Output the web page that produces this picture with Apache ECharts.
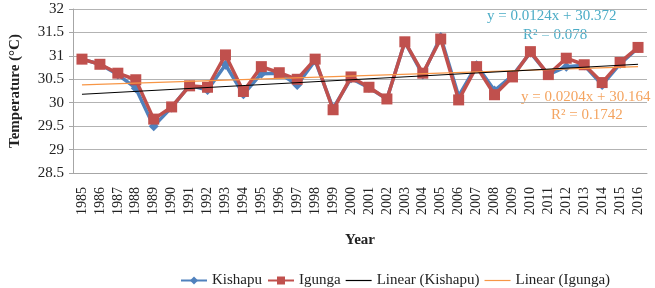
<!DOCTYPE html>
<html>
<head>
<meta charset="utf-8">
<title>Temperature Kishapu Igunga</title>
<script src="https://cdn.jsdelivr.net/npm/echarts@6/dist/echarts.min.js"></script>
<style>
  html, body { margin: 0; padding: 0; background: #fff; }
  #chart { width: 655px; height: 288px; }
</style>
</head>
<body>
<div id="chart"></div>
<script type="text/javascript">
var years = ['1985','1986','1987','1988','1989','1990','1991','1992','1993','1994','1995','1996','1997','1998','1999','2000',
             '2001','2002','2003','2004','2005','2006','2007','2008','2009','2010','2011','2012','2013','2014','2015','2016'];

var kishapu = [30.93, 30.82, 30.60, 30.31, 29.50, 29.90, 30.37, 30.27, 30.81, 30.18, 30.62, 30.63, 30.38, 30.90, 29.88, 30.52,
               30.32, 30.08, 31.30, 30.60, 31.40, 30.14, 30.80, 30.26, 30.58, 31.07, 30.60, 30.77, 30.80, 30.38, 30.83, 31.17];

var igunga = [30.93, 30.82, 30.63, 30.49, 29.65, 29.91, 30.36, 30.33, 31.02, 30.24, 30.77, 30.64, 30.50, 30.93, 29.85, 30.55,
              30.33, 30.08, 31.30, 30.63, 31.36, 30.06, 30.77, 30.17, 30.55, 31.09, 30.60, 30.95, 30.81, 30.43, 30.86, 31.18];

// trend line end points (first and last year)
var kishapuTrendEnds = [30.18, 30.82];
var igungaTrendEnds = [30.38, 30.77];

var eqBlue = ['y = 0.0124x + 30.372', 'R² = 0.078'];
var eqOrange = ['y = 0.0204x + 30.164', 'R² = 0.1742'];

function endsOnly(ends) {
  var out = [];
  for (var i = 0; i < years.length; i++) out.push(null);
  out[0] = ends[0];
  out[years.length - 1] = ends[1];
  return out;
}

var serif = '"Liberation Serif", "DejaVu Serif", serif';
var thinLine = 'path://M0,0 L26,0 L26,1.2 L0,1.2 Z';
var chart = echarts.init(document.getElementById('chart'));

chart.setOption({
  backgroundColor: '#fff',
  animation: false,
  textStyle: { fontFamily: serif },
  grid: { left: 67, right: 8, top: 9, bottom: 115 },
  legend: {
    left: 175,
    top: 268,
    itemWidth: 26,
    itemHeight: 10,
    itemGap: 5,
    textStyle: { fontFamily: serif, fontSize: 15, color: '#222' },
    data: [
      'Kishapu',
      'Igunga',
      { name: 'Linear (Kishapu)', icon: thinLine },
      { name: 'Linear (Igunga)', icon: thinLine }
    ]
  },
  xAxis: {
    type: 'category',
    data: years,
    boundaryGap: true,
    name: 'Year',
    nameLocation: 'middle',
    nameGap: 60,
    nameTextStyle: { fontFamily: serif, fontSize: 15, fontWeight: 'bold', color: '#222' },
    axisLine: { lineStyle: { color: '#a6a6a6' } },
    axisTick: { show: false },
    axisLabel: { rotate: 90, interval: 0, margin: 14, fontFamily: serif, fontSize: 14, color: '#222' }
  },
  yAxis: {
    type: 'value',
    min: 28.5,
    max: 32,
    interval: 0.5,
    name: 'Temperature (°C)',
    nameLocation: 'middle',
    nameGap: 50,
    nameTextStyle: { fontFamily: serif, fontSize: 15, fontWeight: 'bold', color: '#222' },
    axisLine: { show: true, lineStyle: { color: '#a6a6a6' } },
    axisTick: { show: true, length: 4, lineStyle: { color: '#a6a6a6' } },
    axisLabel: { margin: 9, fontFamily: serif, fontSize: 15, color: '#222' },
    splitLine: { lineStyle: { color: '#b3b3b3', width: 1 } }
  },
  series: [
    {
      name: 'Kishapu',
      type: 'line',
      data: kishapu,
      symbol: 'diamond',
      symbolSize: 10,
      lineStyle: { color: '#4f81bd', width: 3.5 },
      itemStyle: { color: '#4f81bd' },
      z: 2
    },
    {
      name: 'Igunga',
      type: 'line',
      data: igunga,
      symbol: 'rect',
      symbolSize: 11,
      lineStyle: { color: '#c0504d', width: 3.5 },
      itemStyle: { color: '#c0504d' },
      z: 3
    },
    {
      name: 'Linear (Kishapu)',
      type: 'line',
      data: endsOnly(kishapuTrendEnds),
      connectNulls: true,
      symbol: 'none',
      lineStyle: { color: '#000', width: 1 },
      itemStyle: { color: '#000' },
      z: 5
    },
    {
      name: 'Linear (Igunga)',
      type: 'line',
      data: endsOnly(igungaTrendEnds),
      connectNulls: true,
      symbol: 'none',
      lineStyle: { color: '#f79646', width: 1.2 },
      itemStyle: { color: '#f79646' },
      z: 4
    }
  ],
  graphic: [
    { type: 'text', left: 487, top: 9, style: { text: eqBlue[0], fontFamily: serif, fontSize: 15, fill: '#4bacc6' } },
    { type: 'text', left: 523, top: 28, style: { text: eqBlue[1], fontFamily: serif, fontSize: 15, fill: '#4bacc6' } },
    { type: 'text', left: 521, top: 90, style: { text: eqOrange[0], fontFamily: serif, fontSize: 15, fill: '#f4a460' } },
    { type: 'text', left: 551, top: 108, style: { text: eqOrange[1], fontFamily: serif, fontSize: 15, fill: '#f4a460' } }
  ]
});
</script>
</body>
</html>
